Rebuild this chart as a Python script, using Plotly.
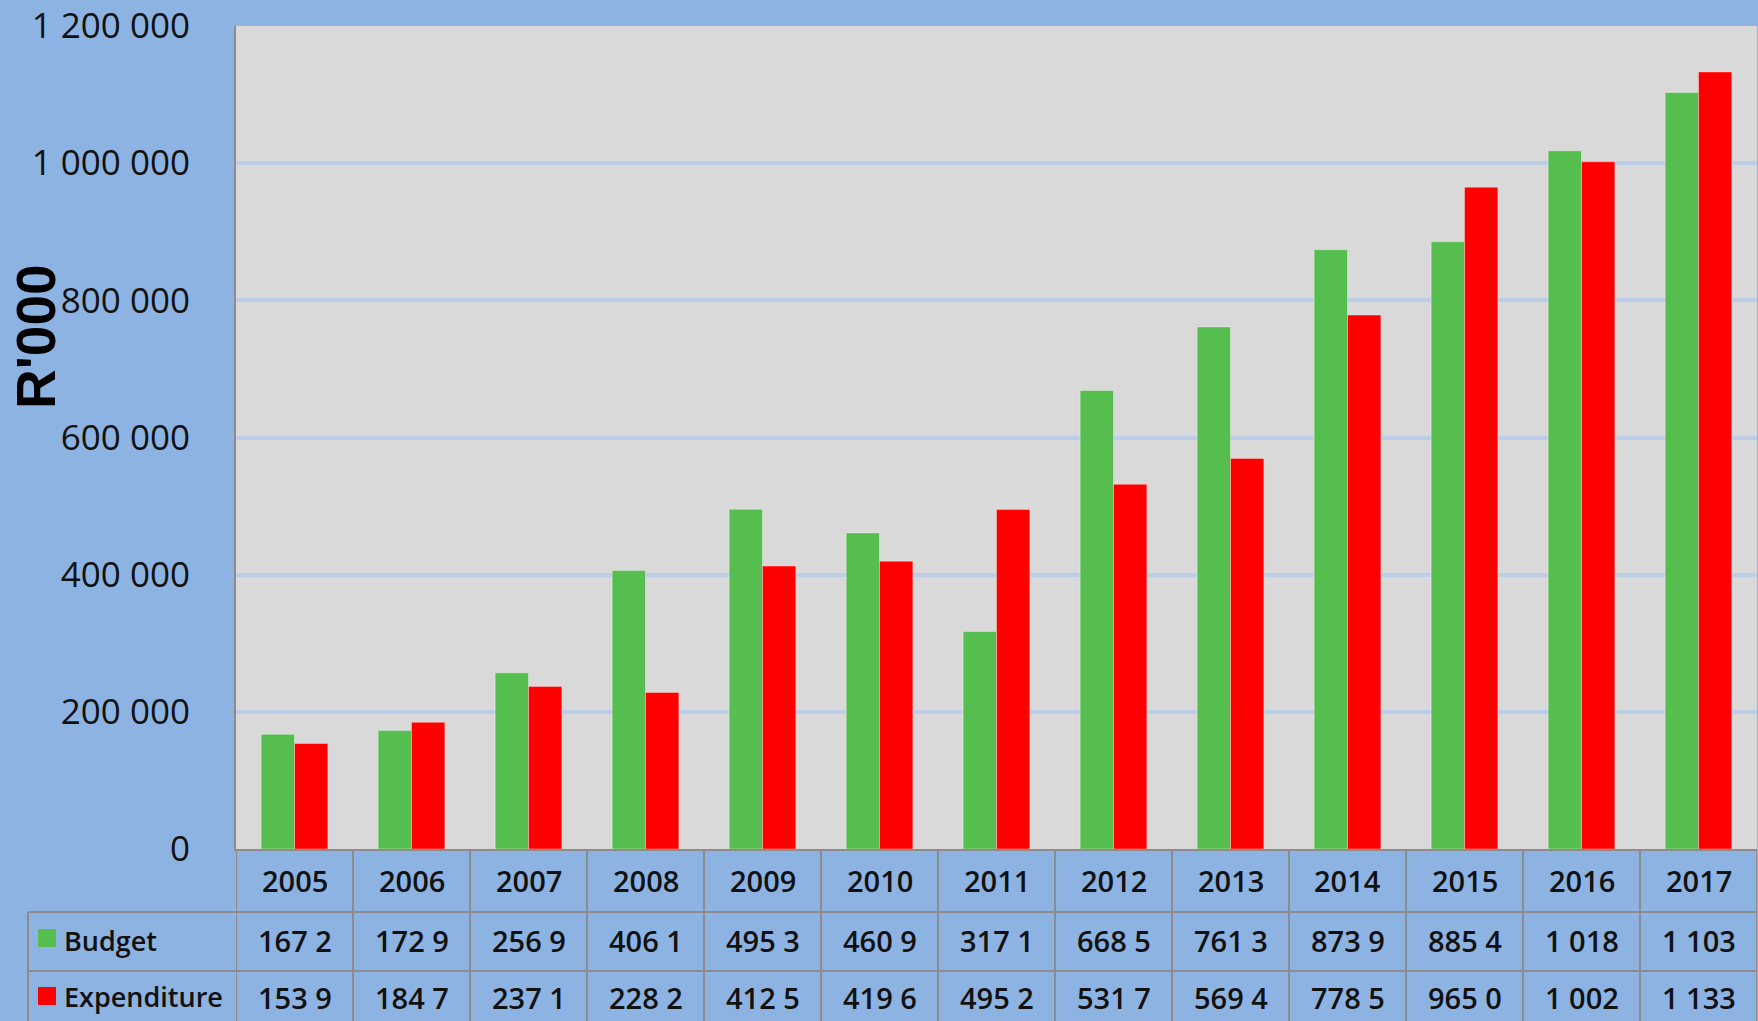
import plotly.graph_objects as go

years = ["2005", "2006", "2007", "2008", "2009", "2010", "2011",
         "2012", "2013", "2014", "2015", "2016", "2017"]
budget = [167200, 172900, 256900, 406100, 495300, 460900, 317100,
          668500, 761300, 873900, 885400, 1018000, 1103000]
expenditure = [153900, 184700, 237100, 228200, 412500, 419600, 495200,
               531700, 569400, 778500, 965000, 1002000, 1133000]
budget_labels = ["167 2", "172 9", "256 9", "406 1", "495 3", "460 9", "317 1",
                 "668 5", "761 3", "873 9", "885 4", "1 018", "1 103"]
expenditure_labels = ["153 9", "184 7", "237 1", "228 2", "412 5", "419 6", "495 2",
                      "531 7", "569 4", "778 5", "965 0", "1 002", "1 133"]
series_names = ["Budget", "Expenditure"]
series_colors = ["#56BD4F", "#FF0000"]
y_ticks = [0, 200000, 400000, 600000, 800000, 1000000, 1200000]

W, H = 1758, 1021
L, R, T, B = 236, 1757, 26, 849  # plot area in pixels
PH = B - T
PW = R - L


def py(p):
    """pixel y -> paper y"""
    return (B - p) / PH


def px(p):
    """pixel x -> paper x"""
    return (p - L) / PW


fig = go.Figure()
for name, vals, col in zip(series_names, [budget, expenditure], series_colors):
    fig.add_trace(go.Bar(
        x=years, y=vals, name=name,
        marker=dict(color=col, line=dict(color="rgba(255,255,255,0.35)", width=1)),
        showlegend=False,
    ))

grid_col = "#8C8C8C"
shapes = []
n = len(years)
for i in range(n + 1):
    shapes.append(dict(type="line", xref="x", yref="paper",
                       x0=i - 0.5, x1=i - 0.5, y0=py(B), y1=py(H + 5),
                       line=dict(color=grid_col, width=2)))
for yy in [912, 971]:
    shapes.append(dict(type="line", xref="paper", yref="paper",
                       x0=px(28), x1=1.0, y0=py(yy), y1=py(yy),
                       line=dict(color=grid_col, width=2)))
shapes.append(dict(type="line", xref="paper", yref="paper",
                   x0=px(28), x1=px(28), y0=py(912), y1=py(H + 5),
                   line=dict(color=grid_col, width=2)))
key_rows = [(929, 947), (987, 1005)]
for (y0, y1), col in zip(key_rows, series_colors):
    shapes.append(dict(type="rect", xref="paper", yref="paper",
                       x0=px(38), x1=px(56), y0=py(y1), y1=py(y0),
                       fillcolor=col, line=dict(width=0)))

annotations = []
tfont = dict(family="Open Sans", size=29, color="#111111", weight=600)
for i, yr in enumerate(years):
    annotations.append(dict(x=i, y=py(880), xref="x", yref="paper", text=yr,
                            showarrow=False, font=tfont, xanchor="center", yanchor="middle"))
    annotations.append(dict(x=i, y=py(941), xref="x", yref="paper", text=budget_labels[i],
                            showarrow=False, font=tfont, xanchor="center", yanchor="middle"))
    annotations.append(dict(x=i, y=py(997), xref="x", yref="paper", text=expenditure_labels[i],
                            showarrow=False, font=tfont, xanchor="center", yanchor="middle"))
for name, yy in zip(series_names, [940, 996]):
    annotations.append(dict(x=px(62), y=py(yy), xref="paper", yref="paper", text=name,
                            showarrow=False,
                            font=dict(family="Open Sans", size=27, color="#111111", weight=600),
                            xanchor="left", yanchor="middle"))
annotations.append(dict(x=px(36), y=py(337), xref="paper", yref="paper", text="<b>R'000</b>",
                        showarrow=False, textangle=-90,
                        font=dict(family="Liberation Sans", size=55, color="#000000"),
                        xanchor="center", yanchor="middle"))

fig.update_layout(
    width=W, height=H,
    margin=dict(l=L, r=W - R, t=T, b=H - B, pad=0),
    paper_bgcolor="#8DB3E2",
    plot_bgcolor="#D9D9D9",
    barmode="group",
    bargap=0.43,
    bargroupgap=0,
    separators=". ",
    shapes=shapes,
    annotations=annotations,
    xaxis=dict(type="category", range=[-0.5, n - 0.5], showticklabels=False,
               showgrid=False, ticks="", showline=True, linecolor=grid_col, linewidth=2),
    yaxis=dict(range=[0, 1200000], tickvals=y_ticks, tickformat=",d",
               showgrid=True, gridcolor="#BCCDEA", gridwidth=4, zeroline=False,
               showline=True, linecolor=grid_col, linewidth=2,
               ticks="outside", ticklen=37, tickcolor="rgba(0,0,0,0)",
               tickfont=dict(family="Open Sans", size=35, color="#111111")),
)

fig.write_html(
    "out.html",
    config={"displayModeBar": False},
    post_script="document.body.style.margin='0';document.body.style.overflow='hidden';",
)
